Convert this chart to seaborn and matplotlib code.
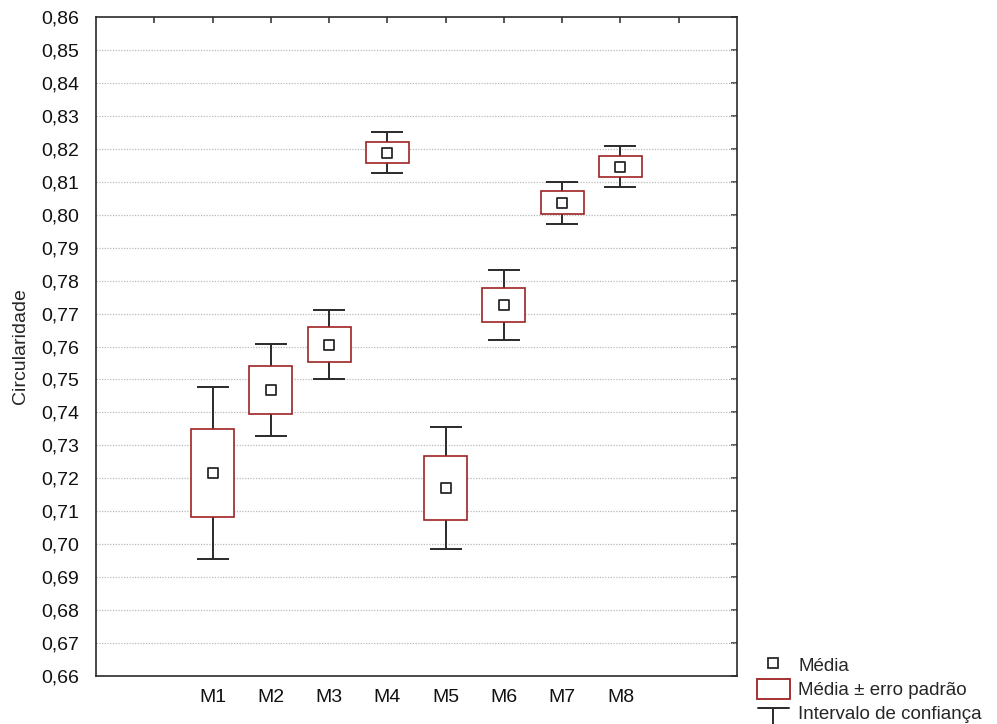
import numpy as np
import pandas as pd
import matplotlib
matplotlib.use("Agg")
import matplotlib.pyplot as plt
from matplotlib.lines import Line2D
from matplotlib.patches import Patch
from matplotlib.legend_handler import HandlerBase
import seaborn as sns

# Circularity by group: mean, standard error and confidence-interval half-width
grupos = ["M1", "M2", "M3", "M4", "M5", "M6", "M7", "M8"]
media = [0.7216, 0.7468, 0.7606, 0.8188, 0.7170, 0.7726, 0.8036, 0.8145]
erro_padrao = [0.0133, 0.0073, 0.0053, 0.0032, 0.0097, 0.0052, 0.0035, 0.0032]
ic_meia = [0.0261, 0.0141, 0.0105, 0.0062, 0.0186, 0.0105, 0.0064, 0.0062]
y_ticks = [round(0.66 + 0.01 * i, 2) for i in range(21)]

sns.set_style("white")
plt.rcParams["font.family"] = ["Liberation Sans", "DejaVu Sans"]

VERMELHO = "#9e2222"
ESCURO = "#2a2a2a"

df = pd.DataFrame({"grupo": grupos, "media": media,
                   "ep": erro_padrao, "ic": ic_meia})
df["pos"] = np.arange(1, len(grupos) + 1)

fig = plt.figure(figsize=(9.97, 7.24), dpi=100)
ax = fig.add_axes([96 / 997, 48 / 724, 641 / 997, 659 / 724])

# confidence interval whiskers
ax.errorbar(df["pos"], df["media"], yerr=df["ic"], fmt="none",
            ecolor=ESCURO, elinewidth=1.4, capsize=11.4, capthick=1.4,
            zorder=2)
# mean +/- standard error boxes
ax.bar(df["pos"], 2 * df["ep"], bottom=df["media"] - df["ep"], width=0.74,
       color="white", edgecolor=VERMELHO, linewidth=1.2, zorder=3)
# means
sns.scatterplot(data=df, x="pos", y="media", marker="s", s=58,
                color="white", edgecolor=ESCURO, linewidth=1.3,
                zorder=4, ax=ax, legend=False)

ax.set_xlim(-1, 10)
ax.set_ylim(0.66, 0.86)
ax.set_xticks(range(0, 10))
ax.set_xticklabels([""] + grupos + [""])
ax.set_yticks(y_ticks)
ax.set_yticklabels([f"{v:.2f}".replace(".", ",") for v in y_ticks])
ax.set_xlabel("")
ax.set_ylabel("Circularidade", fontsize=14, labelpad=9)

for v in y_ticks[1:-1]:
    ax.axhline(v, color="#b8b8b8", linewidth=0.9, linestyle=(0, (1, 1.2)),
               zorder=1)

for s in ax.spines.values():
    s.set_color(ESCURO)
    s.set_linewidth(1.2)
ax.tick_params(axis="both", which="both", direction="in", length=4,
               width=1.1, color=ESCURO, top=True, right=True,
               labelsize=14, labelcolor="#111111")
ax.tick_params(axis="y", pad=12)
ax.tick_params(axis="x", pad=9)


class HandlerIBar(HandlerBase):
    """Legend key drawn as an error bar with caps."""

    def create_artists(self, legend, orig_handle, xdescent, ydescent,
                       width, height, fontsize, trans):
        cx = width / 2 - xdescent
        top = height - ydescent - 0.25 * height
        bot = top - 2.2 * height
        kw = dict(color=ESCURO, linewidth=1.4, transform=trans)
        return [Line2D([cx, cx], [top, bot], **kw),
                Line2D([cx - width * 0.48, cx + width * 0.48], [top, top], **kw),
                Line2D([cx - width * 0.48, cx + width * 0.48], [bot, bot], **kw)]


h_media = Line2D([], [], marker="s", linestyle="none", markersize=7.5,
                 markerfacecolor="white", markeredgecolor=ESCURO,
                 markeredgewidth=1.3)
h_ep = Patch(facecolor="white", edgecolor=VERMELHO, linewidth=1.3)
h_ic = object()

fig.legend([h_media, h_ep, h_ic],
           ["Média", "Média ± erro padrão", "Intervalo de confiança"],
           handler_map={h_ic: HandlerIBar()},
           loc="upper left", bbox_to_anchor=(757 / 997, 1 - 655 / 724),
           frameon=False, fontsize=13.5, borderpad=0, borderaxespad=0,
           handlelength=1.75, handleheight=1.25, handletextpad=0.45,
           labelspacing=0.2)

fig.savefig("out.png", dpi=100)
